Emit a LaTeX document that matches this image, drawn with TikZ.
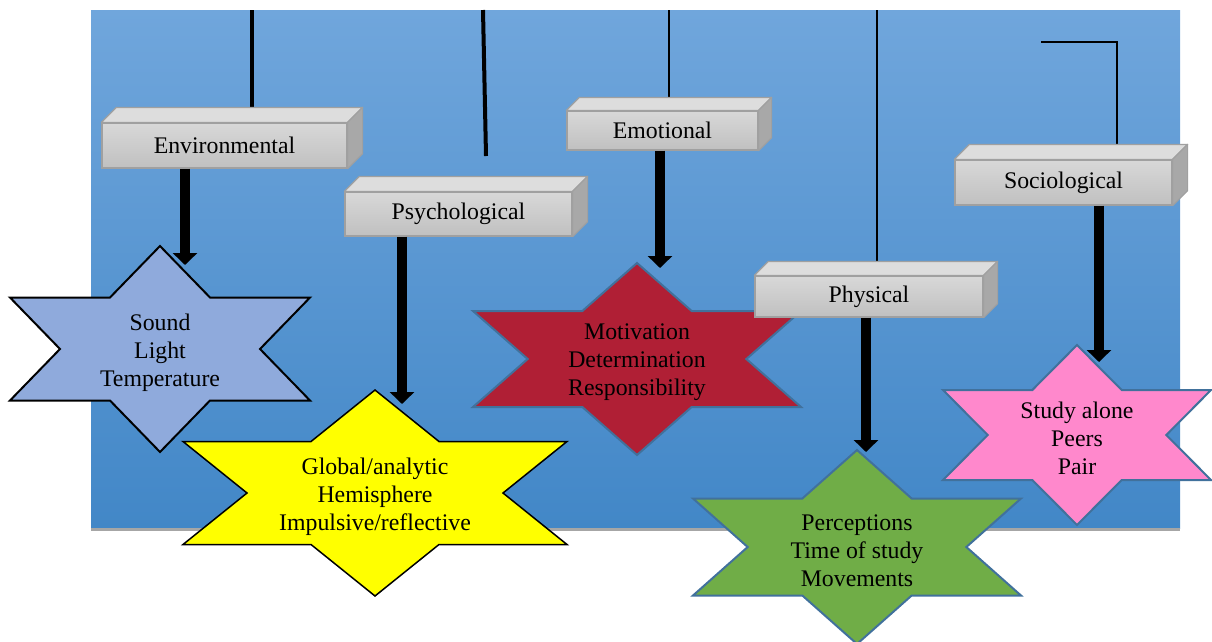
\documentclass[tikz,border=0pt]{standalone}
\usepackage{fontspec}
\setmainfont{Liberation Serif}
\newfontfamily\tnr{Liberation Serif}
\usetikzlibrary{arrows.meta}
\definecolor{bgtop}{HTML}{70A6DC}
\definecolor{bgbot}{HTML}{4287C7}
\definecolor{cubeedge}{HTML}{A0A0A0}
\definecolor{cubefronttop}{HTML}{D8D8D8}
\definecolor{cubefrontbot}{HTML}{C0C0C0}
\definecolor{cubetopc}{HTML}{DDDDDD}
\definecolor{cubesidec}{HTML}{A8A8A8}
\definecolor{starblue}{HTML}{8FAADC}
\definecolor{starred}{HTML}{B01F35}
\definecolor{stargreen}{HTML}{70AD47}
\definecolor{staryellow}{HTML}{FFFF00}
\definecolor{starpink}{HTML}{FF88CC}
\definecolor{staredge}{HTML}{41719C}
\tikzset{
  cubefront/.style={draw=cubeedge, line width=1.2pt, top color=cubefronttop, bottom color=cubefrontbot,
    font=\tnr\fontsize{23.8}{28}\selectfont, inner sep=0pt},
  cubetop/.style={fill=cubetopc, draw=cubeedge, line width=1.2pt, line join=round},
  cubeside/.style={fill=cubesidec, draw=cubeedge, line width=1.2pt, line join=round},
  bigarrow/.style={line width=10pt, -{Triangle[width=24pt,length=12pt]}},
  hangthin/.style={line width=1.2pt},
  hangthick/.style={line width=4pt},
  startext/.style={align=center, font=\tnr\fontsize{23.8}{28}\selectfont, inner sep=0pt},
}
% #1 name, #2 centre, #3 half width, #4 half height, #5 style, #6 text
\newcommand{\hexstar}[6]{%
  \begin{scope}[shift={(#2)}]
    \filldraw[#5, xscale=#3, yscale=#4] (0,-1) -- (1/3,-0.5) -- (1,-0.5) -- (2/3,0) -- (1,0.5) -- (1/3,0.5)
      -- (0,1) -- (-1/3,0.5) -- (-1,0.5) -- (-2/3,0) -- (-1,-0.5) -- (-1/3,-0.5) -- cycle;
    \node[startext] (#1) at (0,3.5) {#6};
  \end{scope}}
% #1 node name, #2 depth
\newcommand{\cubefaces}[2]{%
  \filldraw[cubetop] (#1.north west) -- ++(#2,-#2) -- ([shift={(#2,-#2)}]#1.north east) -- (#1.north east) -- cycle;
  \filldraw[cubeside] (#1.north east) -- ++(#2,-#2) -- ([shift={(#2,-#2)}]#1.south east) -- (#1.south east) -- cycle;}
\begin{document}
\begin{tikzpicture}[x=1pt,y=-1pt]
\useasboundingbox (0,0) rectangle (1212,641);
% background
\shade[top color=bgtop, bottom color=bgbot] (91,10) rectangle (1180,528);
\draw[line width=2.5pt, gray!70] (91,529.5) -- (1180,529.5);

% stars
\hexstar{s1}{160,349}{150}{103}{fill=starblue, draw=black, line width=2pt}{Sound\\Light\\Temperature}
\hexstar{s2}{375,493}{192}{103}{fill=staryellow, draw=black, line width=1.5pt}{Global/analytic\\Hemisphere\\Impulsive/reflective}
\hexstar{s3}{637,359}{164}{96}{fill=starred, draw=staredge, line width=2pt}{Motivation\\Determination\\Responsibility}
\hexstar{s4}{857,547}{164}{97}{fill=stargreen, draw=staredge, line width=2pt}{Perceptions\\Time of study\\Movements}
\hexstar{s5}{1077,435}{134}{90}{fill=starpink, draw=staredge, line width=2pt}{Study alone\\Peers\\Pair}

% boxes
\node[cubefront, minimum width=245, minimum height=45] (env) at (224.5,145.5) {Environmental};
\node[cubefront, minimum width=227, minimum height=44] (psy) at (458.5,214) {Psychological};
\node[cubefront, minimum width=191, minimum height=39] (emo) at (662.5,130.5) {Emotional};
\node[cubefront, minimum width=228, minimum height=41] (phy) at (869,296.5) {Physical};
\node[cubefront, minimum width=217, minimum height=45] (soc) at (1063.5,182.5) {Sociological};

% hanging lines
\coordinate (l1) at (252,10);
\coordinate (l2a) at (483,10);
\coordinate (l2b) at (486,156);
\coordinate (l3) at (669,10);
\coordinate (l4) at (877,10);
\coordinate (l5) at (1041,42);
\coordinate (envback) at ([shift={(0,-15)}]env.north);
\coordinate (emoback) at ([shift={(0,-13)}]emo.north);
\coordinate (phyback) at ([shift={(0,-14)}]phy.north);
\coordinate (socback) at ([shift={(0,-15)}]soc.north);
\coordinate (l5c) at (1117,42);
\draw[hangthick] (l1) -- (l1 |- envback);
\draw[hangthick] (l2a) -- (l2b);
\draw[hangthin] (l3) -- (l3 |- emoback);
\draw[hangthin] (l4) -- (l4 |- phyback);
\draw[hangthin] (l5) -- (l5c) -- (l5c |- socback);

% box faces
\cubefaces{env}{15}
\cubefaces{psy}{15}
\cubefaces{emo}{13}
\cubefaces{phy}{14}
\cubefaces{soc}{15}

% arrows
\coordinate (t1) at (185,265);
\coordinate (t2) at (402,404);
\coordinate (t3) at (660,268);
\coordinate (t4) at (866,452);
\coordinate (t5) at (1099,362);
\draw[bigarrow] (env.south -| t1) -- (t1);
\draw[bigarrow] (psy.south -| t2) -- (t2);
\draw[bigarrow] (emo.south -| t3) -- (t3);
\draw[bigarrow] (phy.south -| t4) -- (t4);
\draw[bigarrow] (soc.south -| t5) -- (t5);
\end{tikzpicture}
\end{document}
